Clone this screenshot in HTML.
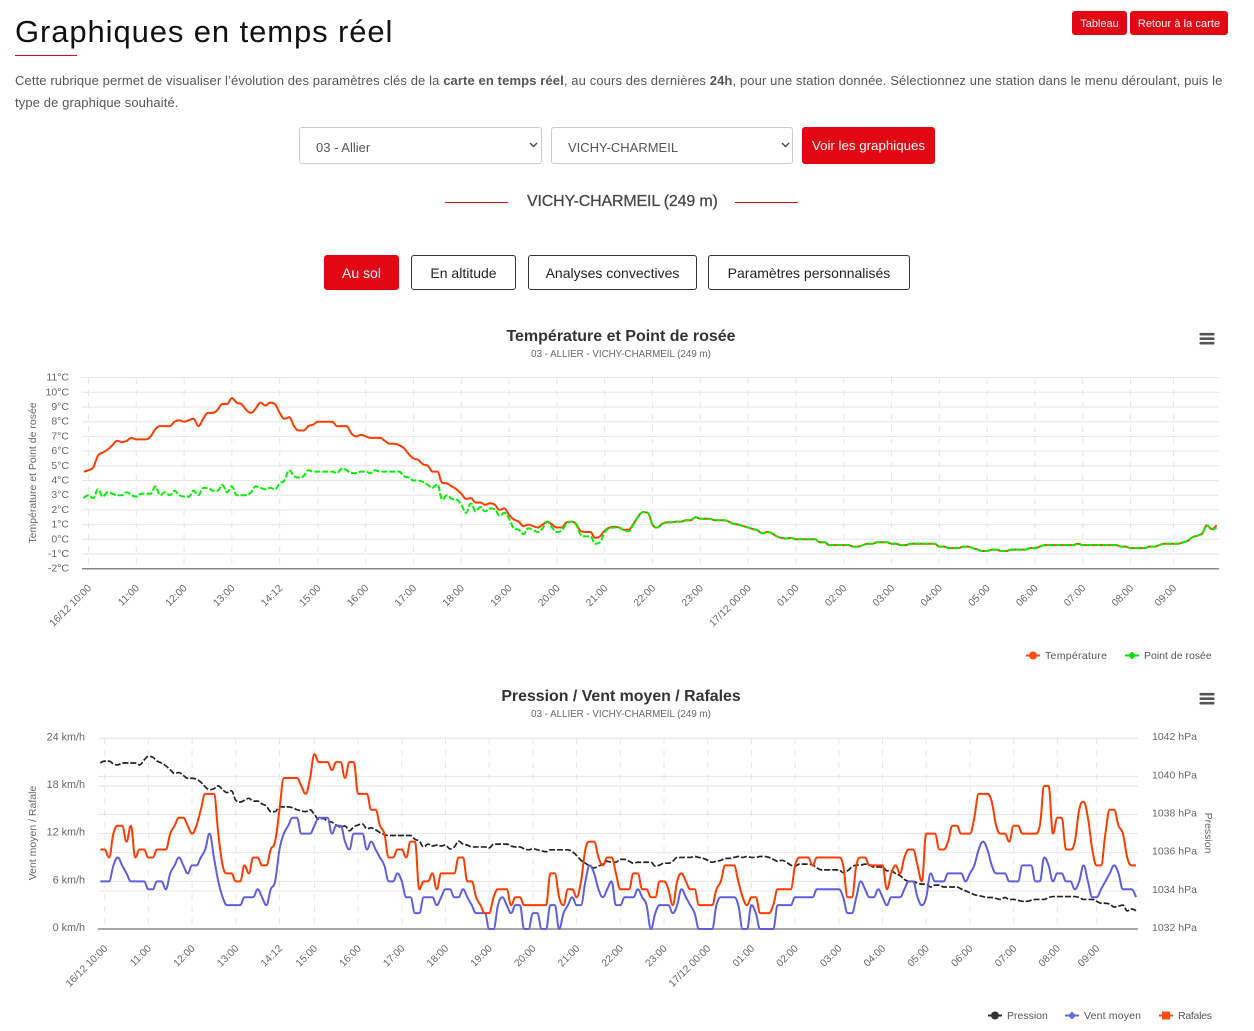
<!DOCTYPE html>
<html lang="fr">
<head>
<meta charset="utf-8">
<title>Graphiques en temps réel</title>
<style>
html,body{margin:0;padding:0;background:#fff;}
body{width:1254px;height:1031px;position:relative;overflow:hidden;font-family:"Liberation Sans",sans-serif;color:#444;}
.abs{position:absolute;white-space:nowrap;}
.btn{position:absolute;box-sizing:border-box;border-radius:3px;text-align:center;font-family:"Liberation Sans",sans-serif;cursor:pointer;padding:0;}
.red{background:#e30613;color:#fff;border:1px solid #e30613;}
.out{background:#fff;color:#222;border:1px solid #333;}
select{position:absolute;box-sizing:border-box;height:37px;top:127px;background:#fff;border:1px solid #ccc;border-radius:3px;font:13px "Liberation Sans",sans-serif;color:#555;padding:3px 0 0 16px;appearance:none;-webkit-appearance:none;}
#charts{position:absolute;left:0;top:0;}
.chev{position:absolute;top:142px;pointer-events:none;}
</style>
</head>
<body>
<h1 class="abs" style="left:15px;top:14px;margin:0;font-size:31px;line-height:36px;font-weight:400;color:#111;letter-spacing:.9px;">Graphiques en temps réel</h1>
<div class="abs" style="left:15px;top:55px;width:62px;height:1px;background:#e30613;"></div>
<button class="btn red" style="left:1072px;top:11px;width:55px;height:24px;font-size:11px;padding-top:1px;">Tableau</button>
<button class="btn red" style="left:1130px;top:11px;width:98px;height:24px;font-size:11px;padding-top:1px;letter-spacing:.06px;">Retour à la carte</button>
<div class="abs" style="left:15px;top:72px;font-size:13px;line-height:17px;color:#555;letter-spacing:.113px;">Cette rubrique permet de visualiser l’évolution des paramètres clés de la <b>carte en temps réel</b>, au cours des dernières <b>24h</b>, pour une station donnée. Sélectionnez une station dans le menu déroulant, puis le</div>
<div class="abs" style="left:15px;top:94px;font-size:13px;line-height:17px;color:#555;letter-spacing:.113px;">type de graphique souhaité.</div>
<select style="left:299px;width:243px;"><option>03 - Allier</option></select>
<svg class="chev" style="left:529px;" width="9" height="6" viewBox="0 0 9 6"><path d="M1 1L4.5 4.5L8 1" fill="none" stroke="#444" stroke-width="1.4"/></svg>
<select style="left:551px;width:242px;"><option>VICHY-CHARMEIL</option></select>
<svg class="chev" style="left:781px;" width="9" height="6" viewBox="0 0 9 6"><path d="M1 1L4.5 4.5L8 1" fill="none" stroke="#444" stroke-width="1.4"/></svg>
<button class="btn red" style="left:802px;top:127px;width:133px;height:37px;font-size:13.3px;">Voir les graphiques</button>
<div class="abs" style="left:445px;top:202px;width:63px;height:1px;background:#e30613;"></div>
<div class="abs" style="left:527px;top:192px;font-size:16px;line-height:20px;color:#444;letter-spacing:-.17px;-webkit-text-stroke:.25px #444;">VICHY-CHARMEIL (249 m)</div>
<div class="abs" style="left:735px;top:202px;width:63px;height:1px;background:#e30613;"></div>
<button class="btn red" style="left:324px;top:255px;width:75px;height:35px;font-size:14px;">Au sol</button>
<button class="btn out" style="left:411px;top:255px;width:105px;height:35px;font-size:14px;">En altitude</button>
<button class="btn out" style="left:528px;top:255px;width:169px;height:35px;font-size:14px;">Analyses convectives</button>
<button class="btn out" style="left:708px;top:255px;width:202px;height:35px;font-size:14px;">Paramètres personnalisés</button>

<svg id="charts" width="1254" height="1031" viewBox="0 0 1254 1031" xmlns="http://www.w3.org/2000/svg" font-family="'Liberation Sans',sans-serif"></svg>

<script>
const temperature = [
4.6,4.7,4.9,5.7,5.9,6.1,6.4,6.7,6.6,6.7,
6.9,6.8,6.8,6.8,7.0,7.5,7.7,7.7,7.7,8.0,
8.1,8.0,8.1,8.2,7.7,8.2,8.6,8.6,8.8,9.2,
9.2,9.6,9.3,9.2,8.8,8.6,8.9,9.3,9.1,9.3,
9.2,8.6,8.2,8.3,7.7,7.4,7.4,7.7,7.8,8.0,
8.0,8.0,8.0,7.7,7.7,7.7,7.2,7.0,7.1,7.0,
6.9,6.9,6.9,6.7,6.5,6.5,6.4,6.2,5.8,5.5,
5.4,5.1,5.0,4.6,4.6,3.85,3.8,3.6,3.4,3.1,
2.75,2.8,2.5,2.5,2.35,2.45,2.35,2.0,2.1,1.65,
1.35,1.2,0.9,1.0,0.9,0.8,1.0,1.2,1.0,0.8,
0.8,1.15,1.2,1.05,0.55,0.5,0.5,0.1,0.2,0.6,
0.8,0.85,0.8,0.65,0.65,1.05,1.55,1.85,1.8,1.0,
0.8,1.05,1.15,1.15,1.2,1.2,1.3,1.3,1.5,1.4,
1.4,1.4,1.3,1.3,1.3,1.2,1.05,1.0,0.9,0.8,
0.7,0.6,0.4,0.5,0.4,0.2,0.1,0.05,0.1,0,
0,0,0,0,-0.2,-0.2,-0.4,-0.4,-0.4,-0.4,
-0.4,-0.5,-0.5,-0.4,-0.3,-0.3,-0.2,-0.2,-0.2,-0.3,
-0.3,-0.4,-0.4,-0.3,-0.3,-0.3,-0.3,-0.3,-0.3,-0.5,
-0.5,-0.6,-0.6,-0.6,-0.5,-0.5,-0.6,-0.7,-0.8,-0.8,
-0.7,-0.7,-0.8,-0.8,-0.7,-0.7,-0.7,-0.7,-0.6,-0.6,
-0.5,-0.4,-0.4,-0.4,-0.4,-0.4,-0.4,-0.4,-0.3,-0.4,
-0.4,-0.4,-0.4,-0.4,-0.4,-0.4,-0.4,-0.5,-0.5,-0.6,
-0.6,-0.6,-0.6,-0.5,-0.5,-0.4,-0.3,-0.3,-0.3,-0.3,
-0.2,-0.1,0.15,0.25,0.4,0.95,0.7,0.95];

const dewPoint = [
2.8,3.0,2.8,3.4,2.9,3.2,3.1,3.0,3.0,3.2,
3.0,2.9,3.1,3.1,3.1,3.6,3.0,3.2,3.0,3.3,
3.0,2.9,2.9,3.3,3.0,3.5,3.5,3.3,3.3,3.7,
3.2,3.6,3.0,3.0,3.0,3.2,3.6,3.5,3.4,3.5,
3.4,3.8,4.0,4.7,4.3,4.2,4.3,4.7,4.6,4.6,
4.6,4.6,4.6,4.5,4.8,4.7,4.5,4.5,4.6,4.6,
4.5,4.7,4.6,4.6,4.6,4.6,4.6,4.3,4.2,4.0,
4.0,3.9,3.7,3.5,3.75,2.7,3.0,2.75,2.7,2.35,
1.8,2.45,1.9,2.2,1.9,2.1,2.05,1.6,1.8,1.4,
0.75,0.65,0.35,0.75,0.65,0.5,0.75,1.2,0.8,0.5,
0.6,1.05,1.2,1.0,0.3,0.2,0.2,-0.3,-0.2,0.5,
0.75,0.8,0.8,0.6,0.55,1.0,1.55,1.85,1.8,1.0,
0.8,1.05,1.15,1.15,1.2,1.2,1.3,1.3,1.5,1.4,
1.4,1.4,1.3,1.3,1.3,1.2,1.05,1.0,0.9,0.8,
0.7,0.6,0.4,0.5,0.4,0.2,0.1,0.05,0.1,0,
0,0,0,0,-0.2,-0.2,-0.4,-0.4,-0.4,-0.4,
-0.4,-0.5,-0.5,-0.4,-0.3,-0.3,-0.2,-0.2,-0.2,-0.3,
-0.3,-0.4,-0.4,-0.3,-0.3,-0.3,-0.3,-0.3,-0.3,-0.5,
-0.5,-0.6,-0.6,-0.6,-0.5,-0.5,-0.6,-0.7,-0.8,-0.8,
-0.7,-0.7,-0.8,-0.8,-0.7,-0.7,-0.7,-0.7,-0.6,-0.6,
-0.5,-0.4,-0.4,-0.4,-0.4,-0.4,-0.4,-0.4,-0.3,-0.4,
-0.4,-0.4,-0.4,-0.4,-0.4,-0.4,-0.4,-0.5,-0.5,-0.6,
-0.6,-0.6,-0.6,-0.5,-0.5,-0.4,-0.3,-0.3,-0.3,-0.3,
-0.2,-0.1,0.15,0.25,0.4,0.95,0.65,0.8];

const pressure = [
1040.7,1040.8,1040.8,1040.65,1040.6,1040.7,1040.7,1040.7,1040.7,1040.6,
1040.85,1041.05,1041.0,1040.8,1040.7,1040.55,1040.35,1040.15,1040.2,1040.05,
1039.9,1039.9,1039.85,1039.7,1039.45,1039.3,1039.35,1039.5,1039.3,1039.15,
1039.25,1038.75,1038.65,1038.75,1038.85,1038.7,1038.7,1038.55,1038.45,1038.15,
1038.15,1038.4,1038.4,1038.4,1038.35,1038.25,1038.2,1038.15,1038.25,1038.0,
1037.75,1037.8,1037.65,1037.6,1037.45,1037.35,1037.4,1037.15,1037.35,1037.45,
1037.5,1037.25,1037.3,1037.2,1037.05,1036.95,1036.9,1036.9,1036.9,1036.9,
1036.9,1036.9,1036.7,1036.6,1036.3,1036.45,1036.35,1036.4,1036.35,1036.4,
1036.2,1036.3,1036.6,1036.45,1036.4,1036.3,1036.3,1036.3,1036.3,1036.25,
1036.45,1036.45,1036.45,1036.45,1036.35,1036.3,1036.3,1036.2,1036.15,1036.2,
1036.15,1036.1,1036.05,1036.15,1036.15,1036.15,1036.15,1036.15,1036.05,1035.85,
1035.6,1035.45,1035.3,1035.2,1035.3,1035.4,1035.55,1035.5,1035.5,1035.65,
1035.65,1035.55,1035.45,1035.5,1035.5,1035.5,1035.5,1035.3,1035.35,1035.45,
1035.45,1035.55,1035.75,1035.75,1035.75,1035.75,1035.8,1035.75,1035.7,1035.6,
1035.5,1035.55,1035.6,1035.7,1035.7,1035.75,1035.8,1035.75,1035.8,1035.75,
1035.75,1035.8,1035.8,1035.75,1035.65,1035.55,1035.6,1035.5,1035.35,1035.3,
1035.4,1035.4,1035.4,1035.35,1035.2,1035.1,1035.1,1035.1,1035.1,1035.1,
1034.95,1035.05,1035.25,1035.35,1035.35,1035.4,1035.35,1035.25,1035.25,1035.25,
1035.05,1035.05,1034.9,1034.8,1034.6,1034.5,1034.5,1034.4,1034.35,1034.35,
1034.2,1034.3,1034.3,1034.2,1034.2,1034.2,1034.2,1034.1,1034.0,1033.9,
1033.8,1033.75,1033.7,1033.65,1033.65,1033.6,1033.55,1033.65,1033.55,1033.55,
1033.5,1033.45,1033.45,1033.5,1033.55,1033.55,1033.55,1033.65,1033.7,1033.7,
1033.7,1033.7,1033.7,1033.7,1033.65,1033.55,1033.55,1033.55,1033.45,1033.35,
1033.35,1033.3,1033.15,1033.2,1033.25,1032.95,1033.05,1032.95];

const windMean = [
6,6,6,8,9,8,7,6,6,6,
6,5,5,6,6,5,7,8,9,8,
7,8,8,9,10,12,9,6,4,3,
3,3,3,4,4,4,5,4,3,5,
6,10,12,13,14,14,12,12,12,13,
14,14,14,12,13,13,11,10,12,12,
12,10,11,10,9,8,6,6,7,6,
4,4,2,2,4,4,4,3,4,5,
5,4,4,5,4,3,2,2,2,0,
0,3,4,3,2,3,3,0,0,2,
2,0,0,3,3,0,2,3,4,3,
3,6,8,7,5,4,5,6,3,3,
4,4,4,5,4,3,0,2,3,3,
3,2,3,5,4,3,2,0,0,0,
0,3,4,4,4,4,3,0,0,3,
2,0,0,0,0,3,3,3,3,4,
4,4,4,4,5,5,5,5,5,5,
4,2,2,4,6,5,4,4,5,4,
3,4,4,4,5,6,6,4,3,4,
7,6,6,6,7,7,7,7,6,7,
8,10,11,10,8,7,7,7,6,6,
6,8,8,8,6,6,9,8,6,7,
7,6,6,5,6,8,6,4,4,5,
6,7,8,7,5,5,5,4];

const windGust = [
10,10,9,12,13,13,11,13,9,10,
10,9,9,10,10,10,12,13,14,14,
13,12,13,15,17,17,17,12,8,7,
7,6,6,8,7,9,9,8,8,10,
11,15,19,19,19,19,18,17,19,22,
21,21,21,20,21,21,19,21,21,17,
17,17,15,15,13,12,9,9,10,10,
9,11,11,5,6,6,7,5,7,7,
7,7,9,9,6,6,4,3,2,2,
4,5,5,5,3,4,4,3,3,3,
3,3,3,7,7,4,3,5,5,4,
6,10,11,11,9,8,9,9,7,5,
5,5,7,7,5,5,4,4,6,6,
5,3,6,7,6,5,5,3,3,3,
3,5,6,8,8,8,6,4,3,4,
4,2,2,2,3,5,5,5,5,8,
9,9,9,8,9,9,9,9,9,9,
8,4,4,8,9,9,8,8,8,8,
5,7,8,7,9,10,10,8,6,12,
12,12,10,10,11,13,13,12,12,12,
14,17,17,17,16,13,12,12,11,13,
13,12,12,12,12,13,18,18,12,14,
14,10,10,11,15,16,14,10,8,8,
12,15,15,13,12,9,8,8];

const tickLabels = ["16/12 10:00","11:00","12:00","13:00","14:12","15:00","16:00","17:00","18:00","19:00","20:00","21:00","22:00","23:00","17/12 00:00","01:00","02:00","03:00","04:00","05:00","06:00","07:00","08:00","09:00"];
const tickIndex = [1,11,21,31,41,49,59,69,79,89,99,109,119,129,139,149,159,169,179,189,199,209,219,228];
const tempTicks = [-2,-1,0,1,2,3,4,5,6,7,8,9,10,11];
const windTicks = [0,6,12,18,24];
const pressureTicks = [1032,1034,1036,1038,1040,1042];

const NS = 'http://www.w3.org/2000/svg';
const svg = document.getElementById('charts');
function mk(tag, attrs, parent, txt){
  const el = document.createElementNS(NS, tag);
  for (const k in attrs) el.setAttribute(k, attrs[k]);
  if (txt !== undefined) el.textContent = txt;
  (parent || svg).appendChild(el);
  return el;
}
function scale(d0, d1, r0, r1){ return v => r0 + (v - d0) * (r1 - r0) / (d1 - d0); }

/* Highcharts-style spline */
function spline(vals, fx, fy){
  const p = vals.map((v, i) => [fx(i), fy(v)]);
  let d = 'M' + p[0][0].toFixed(2) + ' ' + p[0][1].toFixed(2);
  const ctrl = i => {
    const s = 1.5, den = s + 1, pt = p[i], a = p[i - 1], b = p[i + 1];
    if (!a || !b) return [pt[0], pt[1], pt[0], pt[1]];
    let lx = (s * pt[0] + a[0]) / den, ly = (s * pt[1] + a[1]) / den;
    let rx = (s * pt[0] + b[0]) / den, ry = (s * pt[1] + b[1]) / den;
    const c = ((ry - ly) * (rx - pt[0])) / (rx - lx) + pt[1] - ry;
    ly += c; ry += c;
    if (ly > a[1] && ly > pt[1]) { ly = Math.max(a[1], pt[1]); ry = 2 * pt[1] - ly; }
    else if (ly < a[1] && ly < pt[1]) { ly = Math.min(a[1], pt[1]); ry = 2 * pt[1] - ly; }
    if (ry > b[1] && ry > pt[1]) { ry = Math.max(b[1], pt[1]); ly = 2 * pt[1] - ry; }
    else if (ry < b[1] && ry < pt[1]) { ry = Math.min(b[1], pt[1]); ly = 2 * pt[1] - ry; }
    return [lx, ly, rx, ry];
  };
  for (let i = 1; i < p.length; i++) {
    const c0 = ctrl(i - 1), c1 = ctrl(i);
    d += 'C' + c0[2].toFixed(2) + ' ' + c0[3].toFixed(2) + ' ' + c1[0].toFixed(2) + ' ' + c1[1].toFixed(2) + ' ' + p[i][0].toFixed(2) + ' ' + p[i][1].toFixed(2);
  }
  return d;
}

function frame(g, left, right, top, bottom, fx, labelDX, labelDY){
  tickIndex.forEach((idx, n) => {
    const x = fx(idx);
    const gl = mk('line', {x1:x, x2:x, y1:top, y2:bottom, stroke:'#e6e6e6', 'stroke-width':1, 'stroke-dasharray':'6 6'}, g);
    
    
    const lx = x + labelDX, ly = bottom + labelDY;
    const t = mk('text', {x:lx, y:ly, 'text-anchor':'end', 'font-size':10.3, fill:'#666', transform:'rotate(-45 ' + lx + ' ' + ly + ')'}, g, tickLabels[n]);
    
    
  });
}
function hgrid(g, left, right, y){
  const l = mk('line', {x1:left, x2:right, y1:y, y2:y, stroke:'#e6e6e6', 'stroke-width':1}, g);
  
  
}
function axisLine(g, left, right, y){
  const l = mk('line', {x1:left, x2:right, y1:y, y2:y, stroke:'#888', 'stroke-width':1.5}, g);
  
  
}
function series(g, vals, fx, fy, color, dash, width, name){
  const attrs = {d:spline(vals, fx, fy), fill:'none', stroke:color, 'stroke-width':width, 'stroke-linejoin':'round'};
  if (dash) attrs['stroke-dasharray'] = dash;
  const path = mk('path', attrs, g);
  
  
}
function label(g, x, y, str, size, fill, anchor, weight, name, rot){
  const a = {x:x, y:y, 'font-size':size, fill:fill, 'text-anchor':anchor};
  if (weight) a['font-weight'] = weight;
  if (rot) a.transform = 'rotate(' + rot + ' ' + x + ' ' + y + ')';
  const t = mk('text', a, g, str);
  
  
  return t;
}
function menu(g, cy, name){
  const m = mk('g', {cursor:'pointer'}, g);
  
  
  [-4.5, 0, 4.5].forEach(o => {
    const b = mk('rect', {x:1199.5, y:cy + o - 1.3, width:15, height:2.6, rx:1, fill:'#555'}, m);
    
    
  });
}
function legendMark(g, x, y, color, shape){
  const ln = mk('line', {x1:x - 7, x2:x + 7, y1:y, y2:y, stroke:color, 'stroke-width':2}, g);
  
  
  let m;
  if (shape === 'circle') m = mk('circle', {cx:x, cy:y, r:4, fill:color}, g);
  if (shape === 'diamond') m = mk('path', {d:'M' + x + ' ' + (y - 4) + 'L' + (x + 4) + ' ' + y + 'L' + x + ' ' + (y + 4) + 'L' + (x - 4) + ' ' + y + 'Z', fill:color}, g);
  if (shape === 'square') m = mk('rect', {x:x - 4, y:y - 4, width:8, height:8, fill:color}, g);
  
  
}

/* ---- Chart 1 ---- */
const g1 = mk('g', {});


const x1 = i => 83.7 + 4.78 * i;
const y1 = scale(0, 10, 539.3, 392.3);
label(g1, 621, 341, 'Température et Point de rosée', 16, '#333', 'middle', 'bold', 'chart-title');
label(g1, 621, 357, '03 - ALLIER - VICHY-CHARMEIL (249 m)', 9.75, '#666', 'middle', null, 'chart-subtitle');
menu(g1, 338.7, 'chart-menu-button');
tempTicks.forEach(v => {
  if (v > -2) hgrid(g1, 82, 1219, y1(v));
  label(g1, 69, y1(v) + 3, v + '°C', 10.5, '#666', 'end', null, 'y-tick-label');
});
frame(g1, 82, 1219, 378, y1(-2), x1, 3.5, 20);
axisLine(g1, 82, 1219, y1(-2));
label(g1, 36, 473, 'Température et Point de rosée', 10.5, '#666', 'middle', null, 'y-axis-title', -90);
series(g1, temperature, x1, y1, '#ff3c00', null, 2, 'temperature-line');
series(g1, dewPoint, x1, y1, '#00f000', '6 2', 2, 'dew-point-line');
legendMark(g1, 1033, 655.5, '#ff4a10', 'circle');
label(g1, 1045, 659, 'Température', 10.5, '#555', 'start', null, 'legend-temperature').setAttribute('textLength', 62);
legendMark(g1, 1132, 655.5, '#00e000', 'diamond');
label(g1, 1144, 659, 'Point de rosée', 10.5, '#555', 'start', null, 'legend-dew-point');

/* ---- Chart 2 ---- */
const g2 = mk('g', {});


const x2 = i => 100.3 + 4.37 * i;
const yW = scale(0, 24, 929, 738.3);
const yP = scale(1032, 1042, 929, 738.2);
label(g2, 621, 701, 'Pression / Vent moyen / Rafales', 15.9, '#333', 'middle', 'bold', 'chart-title');
label(g2, 621, 717, '03 - ALLIER - VICHY-CHARMEIL (249 m)', 9.75, '#666', 'middle', null, 'chart-subtitle');
menu(g2, 698.7, 'chart-menu-button');
windTicks.forEach(v => {
  if (v > 0) hgrid(g2, 98, 1138, yW(v));
  label(g2, 85, yW(v) + 2, v + ' km/h', 10.8, '#666', 'end', null, 'y-left-tick-label');
});
pressureTicks.forEach(v => {
  if (v > 1032) hgrid(g2, 98, 1138, yP(v));
  label(g2, 1152, yP(v) + 2, v + ' hPa', 10.5, '#666', 'start', null, 'y-right-tick-label');
});
frame(g2, 98, 1138, 738, 929, x2, 3.5, 20);
axisLine(g2, 98, 1138, 929);
label(g2, 36, 833, 'Vent moyen / Rafale', 10.5, '#666', 'middle', null, 'y-left-axis-title', -90);
label(g2, 1205, 833, 'Pression', 10.5, '#666', 'middle', null, 'y-right-axis-title', 90);
series(g2, pressure, x2, yP, '#222', '6 2', 1.7, 'pressure-line');
series(g2, windMean, x2, yW, '#5f5fdc', null, 2, 'mean-wind-line');
series(g2, windGust, x2, yW, '#ff3c00', null, 2, 'gust-line');
legendMark(g2, 995, 1015.5, '#333', 'circle');
label(g2, 1007, 1019, 'Pression', 10.5, '#555', 'start', null, 'legend-pressure');
legendMark(g2, 1072, 1015.5, '#6a6ae0', 'diamond');
label(g2, 1084, 1019, 'Vent moyen', 10.5, '#555', 'start', null, 'legend-mean-wind').setAttribute('textLength', 57);
legendMark(g2, 1166, 1015.5, '#ff4a10', 'square');
label(g2, 1178, 1019, 'Rafales', 10.5, '#555', 'start', null, 'legend-gusts').setAttribute('textLength', 34);
</script>
</body>
</html>
